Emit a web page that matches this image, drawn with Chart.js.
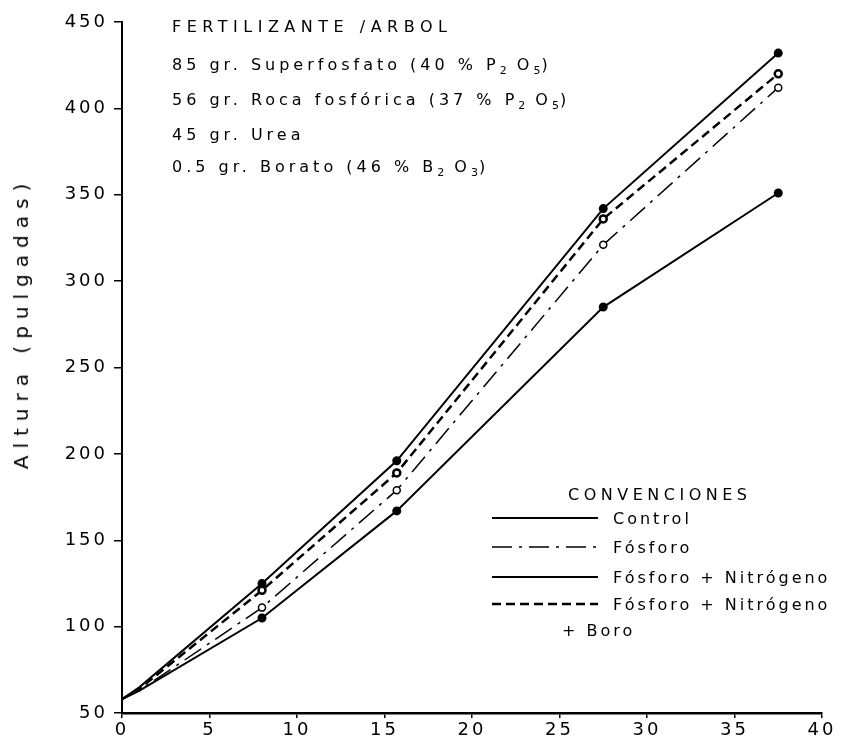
<!DOCTYPE html>
<html lang="es">
<head>
<meta charset="utf-8">
<title>Altura - fertilizante por árbol</title>
<script src="https://cdn.jsdelivr.net/npm/chart.js@4.4.1/dist/chart.umd.min.js"></script>
<style>
    body { margin: 0; background: #fff; }
    #wrap { position: relative; width: 850px; height: 742px; font-family: "DejaVu Sans", sans-serif; color: #000; }
    #wrap canvas { position: absolute; left: 0; top: 0; }
    .note { position: absolute; left: 172px; font-size: 16px; letter-spacing: 4px; white-space: nowrap; transform: translateY(-50%); }
    .note sub { font-size: 11px; letter-spacing: 1px; }
    #noteTitle { letter-spacing: 5.5px; }
    .leg { position: absolute; font-size: 16px; letter-spacing: 3px; white-space: nowrap; transform: translateY(-50%); }
    #legTitle { left: 568px; top: 494px; letter-spacing: 4.5px; }
    #ytitle { position: absolute; left: 21px; top: 323px; font-size: 20px; letter-spacing: 7px; white-space: nowrap;
              transform: translate(-50%, -50%) rotate(-90deg); }
</style>
</head>
<body>
<div id="wrap">
    <canvas id="alturaChart" width="850" height="742"></canvas>

    <div class="note" id="noteTitle" style="top:26px">FERTILIZANTE /ARBOL</div>
    <div class="note" style="top:66px">85 gr.&nbsp;Superfosfato (40 %&nbsp;P<sub>2</sub> O<sub>5</sub>)</div>
    <div class="note" style="top:101px">56 gr.&nbsp;Roca fosfórica (37 % P<sub>2</sub> O<sub>5</sub>)</div>
    <div class="note" style="top:134px">45 gr.&nbsp;Urea</div>
    <div class="note" style="top:168px">0.5 gr.&nbsp;Borato (46 %&nbsp;B<sub>2</sub> O<sub>3</sub>)</div>

    <div class="leg" id="legTitle">CONVENCIONES</div>
    <div id="legItems"></div>

    <div id="ytitle">Altura (pulgadas)</div>
</div>

<script>
    // Tiempo (x) y altura (y)
    const meses = [0, 1, 8, 15.7, 27.5, 37.5];

    const control        = [58, 63, 105, 167, 285, 351];
    const fosforo        = [58, 63, 111, 179, 321, 412];
    const fosforoN       = [58, 65, 125, 196, 342, 432];
    const fosforoNBoro   = [58, 64, 121, 189, 336, 420];

    const xTicks = [0, 5, 10, 15, 20, 25, 30, 35, 40];
    const yTicks = [50, 100, 150, 200, 250, 300, 350, 400, 450];

    const toPoints = vals => vals.map((v, i) => ({ x: meses[i], y: v }));

    // hide markers on the first two readings (as in the original)
    const markerSize = ctx => (ctx.dataIndex < 2 ? 0 : 3.5);

    const datasets = [
        {
            label: 'Control',
            data: toPoints(control),
            borderColor: '#000',
            borderWidth: 2,
            pointBackgroundColor: '#000'
        },
        {
            label: 'Fósforo',
            data: toPoints(fosforo),
            borderColor: '#000',
            borderWidth: 1.5,
            borderDash: [20, 7, 3, 7],
            pointBackgroundColor: '#fff'
        },
        {
            label: 'Fósforo + Nitrógeno',
            data: toPoints(fosforoN),
            borderColor: '#000',
            borderWidth: 2,
            pointBackgroundColor: '#000'
        },
        {
            label: 'Fósforo + Nitrógeno',
            extra: '+ Boro',
            data: toPoints(fosforoNBoro),
            borderColor: '#000',
            borderWidth: 2.5,
            borderDash: [9, 5],
            pointBackgroundColor: '#fff'
        }
    ];

    // Legend rows: sample line drawn from each dataset's own style
    const legendRows = [518, 547, 577, 604];

    const legendLines = {
        id: 'legendLines',
        beforeDraw(chart) {
            // wide typewriter-like tick digits
            chart.ctx.letterSpacing = '3px';
        },
        afterDraw(chart) {
            const c = chart.ctx;
            c.letterSpacing = '0px';
            chart.data.datasets.forEach((ds, i) => {
                c.save();
                c.strokeStyle = ds.borderColor;
                c.lineWidth = ds.borderWidth;
                c.setLineDash(ds.borderDash || []);
                c.beginPath();
                c.moveTo(492, legendRows[i]);
                c.lineTo(598, legendRows[i]);
                c.stroke();
                c.restore();
            });
        }
    };

    // legend labels as html text
    const legItems = document.getElementById('legItems');
    datasets.forEach((ds, i) => {
        const el = document.createElement('div');
        el.className = 'leg';
        el.style.left = '613px';
        el.style.top = legendRows[i] + 'px';
        el.textContent = ds.label;
        legItems.appendChild(el);
        if (ds.extra) {
            const ex = document.createElement('div');
            ex.className = 'leg';
            ex.style.left = '562px';
            ex.style.top = (legendRows[i] + 26) + 'px';
            ex.textContent = ds.extra;
            legItems.appendChild(ex);
        }
    });

    const tickFont = { family: 'DejaVu Sans', size: 18 };

    new Chart(document.getElementById('alturaChart').getContext('2d'), {
        type: 'line',
        data: { datasets: datasets },
        options: {
            responsive: false,
            animation: false,
            layout: { padding: { top: 22, right: 28, left: 0, bottom: 0 } },
            elements: {
                line: { tension: 0, fill: false },
                point: { radius: markerSize, borderColor: '#000', borderWidth: 1.5 }
            },
            plugins: {
                legend: { display: false },
                tooltip: { enabled: false }
            },
            scales: {
                x: {
                    type: 'linear',
                    min: 0,
                    max: 40,
                    afterBuildTicks: scale => { scale.ticks = xTicks.map(v => ({ value: v })); },
                    afterFit: scale => { scale.height = 29; },
                    ticks: { color: '#000', font: tickFont, padding: 2, maxRotation: 0 },
                    grid: { drawOnChartArea: false, color: '#000', tickLength: 5, lineWidth: 1.5 },
                    border: { color: '#000', width: 2.5 }
                },
                y: {
                    min: 50,
                    max: 450,
                    afterBuildTicks: scale => { scale.ticks = yTicks.map(v => ({ value: v })); },
                    afterFit: scale => { scale.width = 122; },
                    ticks: { color: '#000', font: tickFont, padding: 6 },
                    grid: { drawOnChartArea: false, color: '#000', tickLength: 8, lineWidth: 1.5 },
                    border: { color: '#000', width: 2, dash: [16, 6] }
                }
            }
        },
        plugins: [legendLines]
    });
</script>
</body>
</html>
